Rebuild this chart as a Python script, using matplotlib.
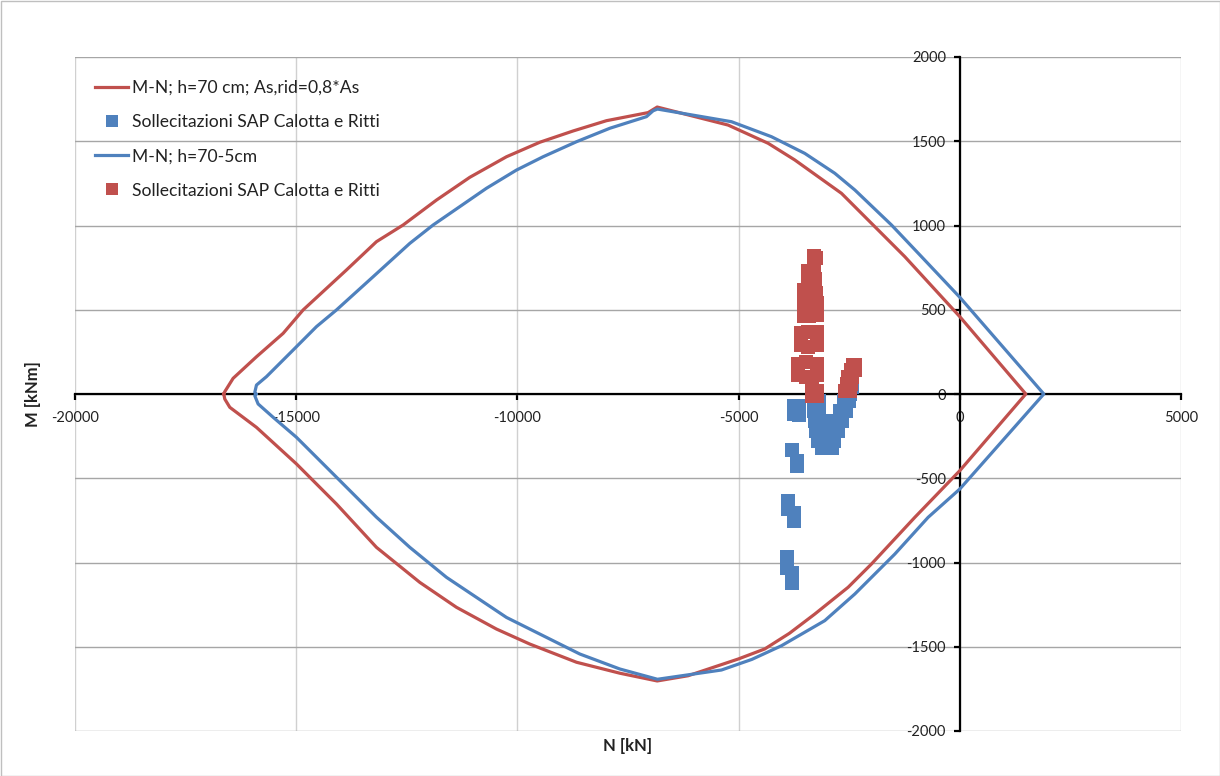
import matplotlib
matplotlib.use("Agg")
import matplotlib.pyplot as plt
from matplotlib.lines import Line2D
from matplotlib.patches import Rectangle

plt.rcParams['font.family'] = ['Lato', 'DejaVu Sans']
plt.rcParams['axes.unicode_minus'] = False

# --- M-N domain, h=70 cm, As,rid = 0.8*As (red) ---
red_N_upper = [-16637, -16614, -16426, -15898, -15295, -14843, -13864, -13186, -12583, -11829,
               -11076, -10247, -9494, -8741, -7987, -7046, -6840, -5237, -4333, -3730, -3203,
               -2675, -1997, -1243, 0, 1492]
red_M_upper = [0, 14, 93, 221, 360, 499, 736, 904, 1003, 1151,
               1286, 1408, 1494, 1561, 1622, 1670, 1703, 1596, 1488, 1389, 1290,
               1191, 1013, 815, 459, 0]
red_N_lower = [1492, 0, -1017, -1997, -2524, -3278, -3850, -4408, -5011, -6141, -6840,
               -7685, -8664, -9720, -10473, -11377, -12206, -13186, -14089, -14994,
               -15898, -16501, -16614, -16637]
red_M_lower = [0, -455, -732, -1009, -1147, -1306, -1420, -1513, -1573, -1672, -1703,
               -1657, -1592, -1484, -1395, -1266, -1118, -910, -653, -415,
               -198, -79, -30, 0]

# --- M-N domain, h=70-5 cm (blue) ---
blue_N_upper = [-15913, -15936, -15898, -15672, -15069, -14541, -14089, -13261, -12432, -11905,
                -10699, -10021, -9419, -8666, -7912, -7082, -6932, -6834, -5161, -4257,
                -3504, -2826, -2373, -1544, -866, 0, 1899]
blue_M_upper = [0, 10, 53, 103, 261, 400, 499, 696, 894, 1003,
                1221, 1329, 1408, 1497, 1577, 1646, 1681, 1691, 1616, 1527,
                1428, 1310, 1211, 1003, 815, 574, 0]
blue_N_lower = [1899, 0, -716, -1469, -2373, -3052, -4031, -4700, -5387, -6834,
                -7685, -8590, -10247, -11603, -12432, -13186, -14089, -14994,
                -15522, -15861, -15936, -15913]
blue_M_lower = [0, -564, -732, -950, -1187, -1345, -1494, -1575, -1638, -1693,
                -1632, -1543, -1326, -1088, -910, -731, -494, -257,
                -138, -59, -10, 0]

# --- SAP stresses (blue squares) ---
sap_blue_N = [-3740, -3630, -3740, -3630,
              -3300, -3190, -2620, -2510, -2430, -2480,
              -3290, -3180, -2700, -2580,
              -3270, -3150, -3030, -2900, -2780, -2660,
              -3240, -3120, -3000, -2880, -2760,
              -3200, -3080, -2960, -2850,
              -3110, -3000, -2900,
              -3800, -3670, -3670,
              -3880, -3880, -3750, -3750,
              -3917, -3917, -3790, -3790]
sap_blue_M = [-70, -70, -120, -125,
              -40, -40, -40, -40, 40, 0,
              -100, -100, -100, -100,
              -160, -160, -160, -160, -160, -160,
              -220, -220, -220, -220, -220,
              -280, -280, -280, -280,
              -320, -320, -320,
              -335, -400, -430,
              -633, -684, -704, -752,
              -965, -1035, -1064, -1120]

# --- SAP stresses (red squares) ---
sap_red_N = [-3300, -3260, -3300,
             -3440, -3300, -3440, -3280,
             -3520, -3380, -3240, -3520, -3230, -3380, -3520, -3230, -3400,
             -3590, -3420, -3230, -3590, -3230, -3420,
             -3660, -3480, -3230, -3660, -3480, -3230,
             -3330, -3230, -3330, -3230,
             -2600, -2480, -2560, -2460, -2520, -2430, -2460, -2380, -2380, -2420]
sap_red_M = [820, 810, 780,
             730, 740, 690, 680,
             620, 620, 600, 540, 540, 520, 460, 470, 460,
             360, 370, 370, 290, 290, 280,
             180, 190, 180, 110, 100, 110,
             30, 20, -10, -10,
             20, 20, 60, 60, 100, 100, 140, 140, 170, 170]

red = '#C0504D'
blue = '#4F81BD'

fig = plt.figure(figsize=(12.2, 7.76), dpi=100)
ax = fig.add_axes([75/1220, 1-731/776, (1181-75)/1220, (731-57)/776])

ax.plot(red_N_upper + red_N_lower, red_M_upper + red_M_lower, color=red, lw=2.3, zorder=3,
        solid_joinstyle='round')
ax.scatter(sap_blue_N, sap_blue_M, marker='s', s=95, color=blue, linewidths=0, zorder=4)
ax.plot(blue_N_upper + blue_N_lower, blue_M_upper + blue_M_lower, color=blue, lw=2.3, zorder=5,
        solid_joinstyle='round')
ax.scatter(sap_red_N, sap_red_M, marker='s', s=95, color=red, linewidths=0, zorder=6)

ax.set_xlim(-20000, 5000)
ax.set_ylim(-2000, 2000)
ax.set_xticks(range(-20000, 5001, 5000))
ax.set_yticks(range(-2000, 2001, 500))

ax.spines['left'].set_position(('data', 0))
ax.spines['bottom'].set_position(('data', 0))
ax.spines['top'].set_visible(False)
ax.spines['right'].set_visible(False)
for s in ('left', 'bottom'):
    ax.spines[s].set_linewidth(1.6)
    ax.spines[s].set_color('black')
    ax.spines[s].set_zorder(2)

ax.tick_params(axis='both', direction='out', length=4, width=1.6, color='black',
               labelsize=10.5, labelcolor='#222222')
ax.tick_params(axis='x', pad=8)
ax.tick_params(axis='y', pad=6)

ax.set_axisbelow(True)
ax.grid(axis='y', color='#a6a6a6', lw=1, zorder=0)
ax.grid(axis='x', color='#d0d0d0', lw=1, zorder=0)

fig.text(628/1220, 1-746/776, 'N [kN]', ha='center', va='center', fontsize=12,
         fontweight='bold', color='#222222')
fig.text(33/1220, 1-394/776, 'M [kNm]', ha='center', va='center', rotation=90,
         fontsize=12, fontweight='bold', color='#222222')

handles = [
    Line2D([], [], color=red, lw=2.3),
    Line2D([], [], color=blue, marker='s', ls='none', markersize=9.0, markeredgewidth=0),
    Line2D([], [], color=blue, lw=2.3),
    Line2D([], [], color=red, marker='s', ls='none', markersize=9.0, markeredgewidth=0),
]
labels = ['M-N; h=70 cm; As,rid=0,8*As', 'Sollecitazioni SAP Calotta e Ritti',
          'M-N; h=70-5cm', 'Sollecitazioni SAP Calotta e Ritti']
leg = ax.legend(handles, labels, loc='upper left', bbox_to_anchor=(0.018, 0.966),
                frameon=False, fontsize=12.6, handlelength=1.9, handletextpad=0.23,
                labelspacing=1.04, borderpad=0, borderaxespad=0)
for t in leg.get_texts():
    t.set_color('#222222')

fig.patches.append(Rectangle((0.5/1220, 0.5/776), 1-1/1220, 1-1/776, transform=fig.transFigure,
                             fill=False, edgecolor='#bfbfbf', lw=1))

fig.savefig('out.png', dpi=100)
